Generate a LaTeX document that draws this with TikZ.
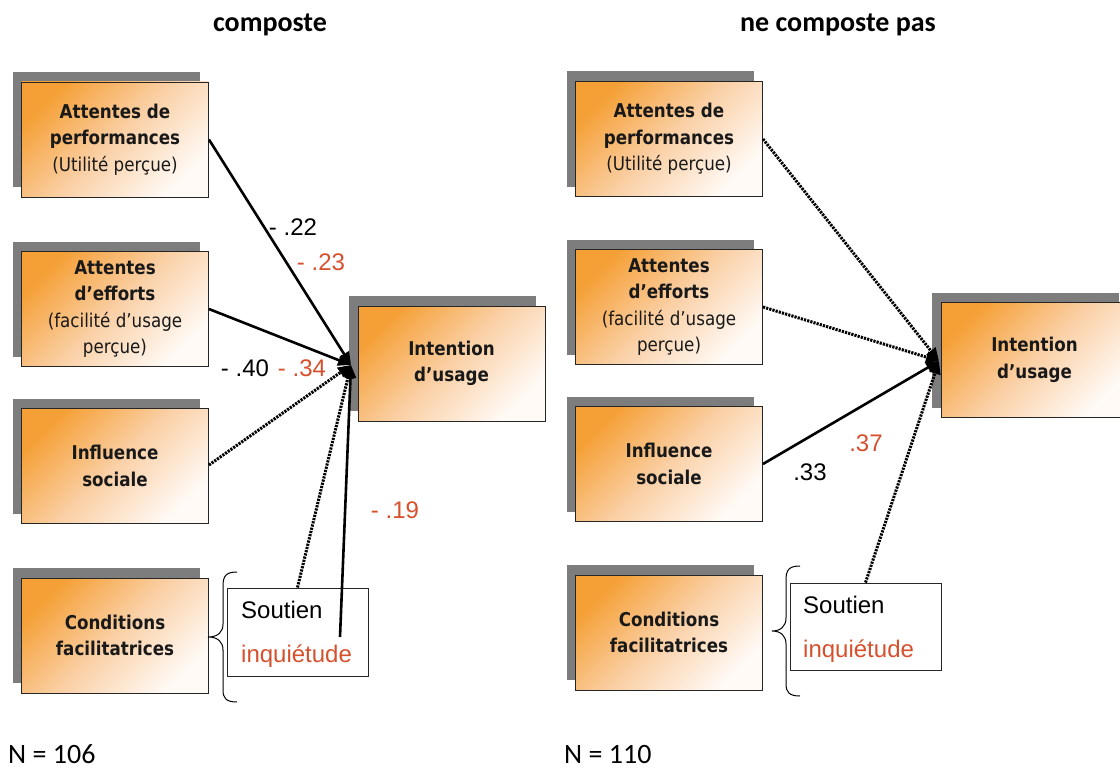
\documentclass[tikz,border=0pt]{standalone}
\usepackage{fontspec}
\setmainfont{Liberation Sans}
\newfontfamily\boxf[FakeStretch=0.88]{DejaVu Sans}
\newfontfamily\calib{Carlito}
\usetikzlibrary{arrows.meta,shadows}
\definecolor{orgA}{RGB}{245,160,55}
\definecolor{orgB}{RGB}{250,208,166}
\definecolor{orgC}{RGB}{255,250,246}
\definecolor{shgray}{RGB}{125,125,125}
\definecolor{lblred}{RGB}{214,80,45}
\begin{document}
\begin{tikzpicture}[x=1pt,y=-1pt,
  fbox/.style={draw=black!85, line width=0.9pt, minimum width=187pt, minimum height=115pt,
    inner sep=0pt, align=center, font=\boxf\fontsize{19}{26.5}\selectfont, text=black!90,
    general shadow={shadow xshift=-9pt, shadow yshift=10pt, fill=shgray},
    top color=orgA, bottom color=orgC, middle color=orgB, shading angle=45},
  sbox/.style={draw=black!85, line width=0.9pt, fill=white, inner sep=0pt},
  lbl/.style={font=\fontsize{24}{28}\selectfont, inner sep=0pt},
  redlbl/.style={lbl, text=lblred},
  ttl/.style={font=\calib\bfseries\fontsize{28}{32}\selectfont, inner sep=0pt, anchor=base},
  nlbl/.style={font=\calib\fontsize{28}{32}\selectfont, inner sep=0pt, anchor=base west},
  brc/.style={draw=black, line width=1pt},
  sarr/.style={draw=black, line width=2.6pt, -{Triangle[length=13pt,width=11pt]}},
  darr/.style={sarr, line width=3pt, dash pattern=on 2.2pt off 1.1pt}
]
\useasboundingbox (0,0) rectangle (1120,768);

% titles
\node[ttl] (t1) at (270,32) {composte};
\node[ttl] (t2) at (838,32) {ne composte pas};

% left column boxes
\node[fbox] (L1) at (115,139.5) {\bfseries Attentes de\\\bfseries performances\\(Utilité perçue)};
\node[fbox] (L2) at (115,309) {\bfseries Attentes\\\bfseries d’efforts\\(facilité d’usage\\perçue)};
\node[fbox] (L3) at (115,466) {\bfseries Influence\\\bfseries sociale};
\node[fbox] (L4) at (115,635.5) {\bfseries Conditions\\\bfseries facilitatrices};
\node[fbox] (LI) at (451.5,363.5) {\bfseries Intention\\\bfseries d’usage};

\node[sbox, minimum width=141pt, minimum height=88pt] (soutL) at (297.5,632) {};
\node[lbl, anchor=base west] (soutLa) at (241,618) {Soutien};
\node[redlbl, anchor=base west] (soutLb) at (241,662) {inquiétude};
\draw[brc] (237,572) .. controls (226,572) and (223,576) .. (223,586) -- (223,624)
  .. controls (223,632) and (218,637) .. (208,637)
  .. controls (218,637) and (223,642) .. (223,650) -- (223,690)
  .. controls (223,698) and (226,702) .. (237,702);

% right column boxes
\node[fbox] (R1) at (669,139) {\bfseries Attentes de\\\bfseries performances\\(Utilité perçue)};
\node[fbox] (R2) at (669,307) {\bfseries Attentes\\\bfseries d’efforts\\(facilité d’usage\\perçue)};
\node[fbox] (R3) at (669,464) {\bfseries Influence\\\bfseries sociale};
\node[fbox] (R4) at (669,632.5) {\bfseries Conditions\\\bfseries facilitatrices};
\node[fbox] (RI) at (1034.5,360) {\bfseries Intention\\\bfseries d’usage};

\node[sbox, minimum width=151pt, minimum height=87pt] (soutR) at (865.5,626.5) {};
\node[lbl, anchor=base west] (soutRa) at (803,613) {Soutien};
\node[redlbl, anchor=base west] (soutRb) at (803,657) {inquiétude};
\draw[brc] (800,566) .. controls (789,566) and (786,570) .. (786,580) -- (786,618)
  .. controls (786,626) and (781,631) .. (772,631)
  .. controls (781,631) and (786,636) .. (786,644) -- (786,684)
  .. controls (786,692) and (789,696) .. (800,696);

% left connectors
\coordinate (tipL) at (351,365);
\coordinate (inqL) at (340,637);
\draw[sarr] (L1.east) -- (tipL);
\draw[sarr] (L2.east) -- (tipL);
\draw[darr] (L3.east |- 0,465) -- (tipL);
\draw[darr] (soutL.north) -- (tipL);
\draw[sarr] (inqL) -- (tipL);

% right connectors
\coordinate (tipR) at (939,361);
\draw[darr] (R1.east) -- (tipR);
\draw[darr] (R2.east) -- (tipR);
\draw[sarr] (R3.east) -- (tipR);
\draw[darr] (soutR.north) -- (tipR);

% coefficient labels
\node[lbl] (c22) at (293,227) {- .22};
\node[redlbl] (c23) at (321,262) {- .23};
\node[lbl] (c40) at (245,368) {- .40};
\node[redlbl] (c34) at (302,368) {- .34};
\node[redlbl] (c19) at (395,510) {- .19};
\node[lbl] (c33) at (810,472) {.33};
\node[redlbl] (c37) at (866,443) {.37};

% sample sizes
\node[nlbl] (n1) at (8,763) {N = 106};
\node[nlbl] (n2) at (564,763) {N = 110};
\end{tikzpicture}
\end{document}
